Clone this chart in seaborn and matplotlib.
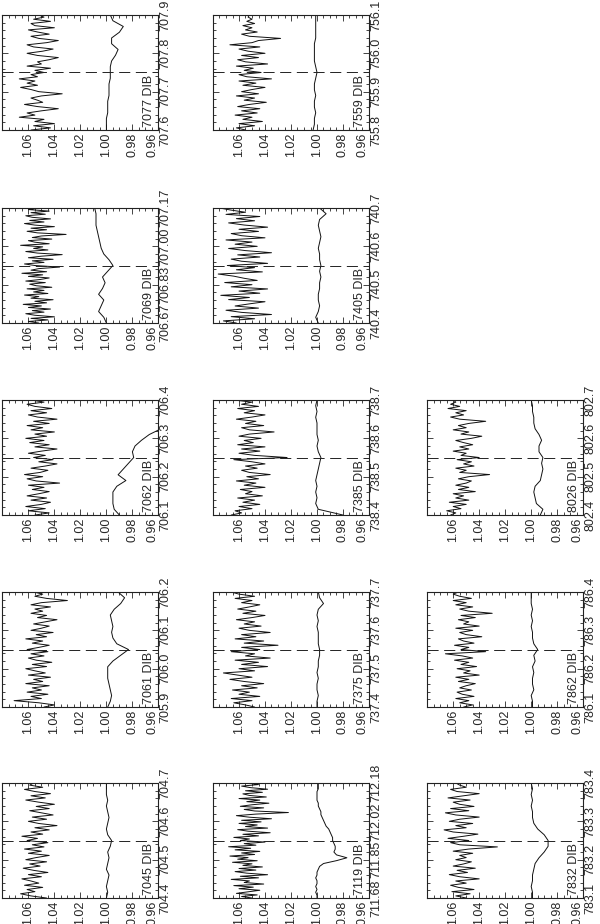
import matplotlib
matplotlib.use("Agg")
import matplotlib.pyplot as plt
import numpy as np
import pandas as pd
import seaborn as sns
from matplotlib.ticker import AutoMinorLocator, FixedLocator, FormatStrFormatter

# wavelength windows (nm) for each DIB
wl_7045 = (704.4, 704.7)
wl_7061 = (705.9, 706.2)
wl_7062 = (706.1, 706.4)
wl_7069 = (706.6667, 707.1667)
wl_7077 = (707.6, 707.9)
wl_7119 = (711.6833, 712.1833)
wl_7375 = (737.4, 737.7)
wl_7385 = (738.4, 738.7)
wl_7405 = (740.4, 740.7)
wl_7559 = (755.8, 756.1)
wl_7832 = (783.1, 783.4)
wl_7862 = (786.1, 786.4)
wl_8026 = (802.4, 802.7)

flux_ticks = [1.06, 1.04, 1.02, 1.00, 0.98, 0.96]

# observed (noisy) spectra, evenly sampled across each window
obs_7045 = [1.046, 1.058, 1.066, 1.055, 1.061, 1.049, 1.063, 1.052, 1.058, 1.065, 1.050, 1.060, 1.045, 1.056,
            1.064, 1.051, 1.059, 1.046, 1.062, 1.054, 1.044, 1.060, 1.050, 1.063, 1.048, 1.057, 1.045, 1.061,
            1.053, 1.065, 1.049, 1.058, 1.044, 1.055, 1.038, 1.052, 1.060, 1.046, 1.057, 1.041, 1.050, 1.059,
            1.044, 1.054, 1.040, 1.052, 1.062, 1.047, 1.058, 1.043, 1.055, 1.063, 1.049, 1.059, 1.056]
obs_7061 = [1.048, 1.040, 1.052, 1.071, 1.050, 1.058, 1.045, 1.061, 1.050, 1.057, 1.044, 1.062, 1.049, 1.056,
            1.043, 1.060, 1.047, 1.055, 1.062, 1.046, 1.057, 1.042, 1.054, 1.060, 1.048, 1.058, 1.045, 1.061,
            1.052, 1.044, 1.057, 1.049, 1.062, 1.046, 1.054, 1.041, 1.058, 1.050, 1.044, 1.056, 1.047, 1.038,
            1.053, 1.046, 1.058, 1.049, 1.055, 1.043, 1.058, 1.050, 1.030, 1.046, 1.055, 1.049, 1.056]
obs_7062 = [1.055, 1.044, 1.060, 1.047, 1.062, 1.050, 1.043, 1.058, 1.046, 1.061, 1.052, 1.044, 1.057, 1.048,
            1.060, 1.036, 1.054, 1.061, 1.049, 1.063, 1.051, 1.045, 1.058, 1.047, 1.038, 1.052, 1.041, 1.056,
            1.047, 1.060, 1.050, 1.038, 1.055, 1.044, 1.059, 1.048, 1.062, 1.046, 1.055, 1.040, 1.058, 1.049,
            1.061, 1.044, 1.056, 1.038, 1.053, 1.060, 1.046, 1.058, 1.042, 1.055, 1.061, 1.048, 1.058]
obs_7069 = [1.052, 1.060, 1.045, 1.058, 1.040, 1.055, 1.062, 1.048, 1.057, 1.043, 1.060, 1.050, 1.064, 1.046,
            1.055, 1.041, 1.058, 1.052, 1.063, 1.045, 1.056, 1.048, 1.061, 1.042, 1.054, 1.059, 1.047, 1.062,
            1.051, 1.044, 1.060, 1.049, 1.065, 1.046, 1.058, 1.052, 1.036, 1.055, 1.063, 1.048, 1.057, 1.041,
            1.060, 1.050, 1.034, 1.053, 1.062, 1.045, 1.056, 1.049, 1.066, 1.044, 1.055, 1.060, 1.042, 1.057,
            1.050, 1.031, 1.053, 1.061, 1.046, 1.058, 1.040, 1.055, 1.063, 1.048, 1.059, 1.043, 1.057, 1.062,
            1.047, 1.058, 1.044, 1.060, 1.052]
obs_7077 = [1.058, 1.043, 1.056, 1.040, 1.055, 1.048, 1.067, 1.055, 1.061, 1.050, 1.037, 1.053, 1.063, 1.049,
            1.053, 1.058, 1.050, 1.034, 1.052, 1.058, 1.066, 1.053, 1.061, 1.055, 1.067, 1.053, 1.058, 1.048,
            1.055, 1.043, 1.061, 1.050, 1.053, 1.044, 1.037, 1.053, 1.061, 1.049, 1.041, 1.056, 1.061, 1.046,
            1.037, 1.052, 1.058, 1.044, 1.053, 1.060, 1.040, 1.055, 1.058, 1.043, 1.056, 1.048, 1.052]
obs_7119 = [1.050, 1.058, 1.046, 1.062, 1.053, 1.044, 1.060, 1.049, 1.064, 1.041, 1.056, 1.052, 1.066, 1.045,
            1.059, 1.038, 1.054, 1.063, 1.047, 1.060, 1.042, 1.057, 1.050, 1.065, 1.046, 1.061, 1.053, 1.067,
            1.048, 1.058, 1.044, 1.063, 1.051, 1.068, 1.047, 1.056, 1.040, 1.059, 1.052, 1.064, 1.045, 1.057,
            1.036, 1.053, 1.061, 1.038, 1.055, 1.046, 1.060, 1.043, 1.058, 1.035, 1.052, 1.062, 1.047, 1.022,
            1.048, 1.056, 1.041, 1.059, 1.050, 1.037, 1.054, 1.044, 1.060, 1.039, 1.052, 1.057, 1.042, 1.055,
            1.038, 1.051, 1.058, 1.045, 1.053]
obs_7375 = [1.048, 1.055, 1.064, 1.050, 1.066, 1.044, 1.060, 1.052, 1.065, 1.046, 1.058, 1.041, 1.056, 1.067,
            1.050, 1.061, 1.072, 1.048, 1.060, 1.038, 1.058, 1.045, 1.063, 1.036, 1.055, 1.048, 1.066, 1.044,
            1.058, 1.030, 1.056, 1.041, 1.063, 1.047, 1.058, 1.036, 1.052, 1.060, 1.043, 1.056, 1.048, 1.062,
            1.050, 1.040, 1.057, 1.047, 1.061, 1.052, 1.044, 1.058, 1.050, 1.063, 1.048, 1.060, 1.066]
obs_7385 = [1.066, 1.058, 1.063, 1.050, 1.060, 1.044, 1.057, 1.048, 1.061, 1.042, 1.055, 1.050, 1.059, 1.040,
            1.056, 1.047, 1.062, 1.045, 1.054, 1.036, 1.052, 1.058, 1.046, 1.055, 1.040, 1.050, 1.064, 1.023,
            1.048, 1.060, 1.044, 1.058, 1.040, 1.061, 1.049, 1.056, 1.043, 1.060, 1.052, 1.033, 1.052, 1.058,
            1.041, 1.055, 1.047, 1.062, 1.050, 1.040, 1.056, 1.048, 1.061, 1.045, 1.058, 1.050, 1.064]
obs_7405 = [1.062, 1.072, 1.048, 1.066, 1.035, 1.058, 1.070, 1.045, 1.063, 1.052, 1.040, 1.068, 1.052, 1.074,
            1.044, 1.060, 1.038, 1.066, 1.050, 1.071, 1.046, 1.056, 1.064, 1.076, 1.042, 1.062, 1.048, 1.069,
            1.038, 1.058, 1.066, 1.044, 1.061, 1.035, 1.055, 1.068, 1.046, 1.063, 1.050, 1.070, 1.040, 1.058,
            1.066, 1.045, 1.060, 1.038, 1.056, 1.068, 1.048, 1.062, 1.044, 1.070, 1.055, 1.066, 1.075]
obs_7559 = [1.055, 1.062, 1.048, 1.060, 1.042, 1.057, 1.050, 1.063, 1.046, 1.058, 1.044, 1.061, 1.052, 1.039,
            1.056, 1.048, 1.062, 1.045, 1.058, 1.050, 1.040, 1.057, 1.047, 1.060, 1.035, 1.054, 1.060, 1.043,
            1.056, 1.049, 1.062, 1.038, 1.055, 1.061, 1.045, 1.058, 1.040, 1.053, 1.060, 1.044, 1.067, 1.050,
            1.045, 1.028, 1.052, 1.058, 1.046, 1.055, 1.050, 1.057, 1.048, 1.054, 1.050, 1.053, 1.052]
obs_7832 = [1.050, 1.058, 1.047, 1.061, 1.044, 1.056, 1.062, 1.050, 1.058, 1.040, 1.055, 1.063, 1.049, 1.057,
            1.043, 1.060, 1.052, 1.046, 1.058, 1.050, 1.055, 1.045, 1.060, 1.048, 1.026, 1.055, 1.062, 1.048,
            1.064, 1.052, 1.041, 1.060, 1.067, 1.050, 1.058, 1.045, 1.063, 1.055, 1.040, 1.058, 1.066, 1.048,
            1.062, 1.044, 1.055, 1.060, 1.047, 1.064, 1.052, 1.040, 1.057, 1.062, 1.050, 1.055, 1.058]
obs_7862 = [1.052, 1.045, 1.055, 1.048, 1.058, 1.044, 1.053, 1.057, 1.046, 1.055, 1.050, 1.043, 1.056, 1.048,
            1.058, 1.040, 1.052, 1.047, 1.057, 1.042, 1.054, 1.048, 1.059, 1.045, 1.053, 1.066, 1.035, 1.054,
            1.048, 1.059, 1.044, 1.052, 1.056, 1.038, 1.050, 1.055, 1.045, 1.058, 1.040, 1.052, 1.048, 1.056,
            1.043, 1.054, 1.030, 1.048, 1.055, 1.045, 1.058, 1.050, 1.060, 1.046, 1.055, 1.060, 1.056]
obs_8026 = [1.062, 1.058, 1.065, 1.054, 1.060, 1.050, 1.063, 1.048, 1.058, 1.052, 1.060, 1.043, 1.056, 1.048,
            1.058, 1.050, 1.046, 1.056, 1.048, 1.032, 1.055, 1.050, 1.058, 1.044, 1.052, 1.046, 1.057, 1.040,
            1.054, 1.050, 1.060, 1.048, 1.055, 1.045, 1.052, 1.058, 1.046, 1.038, 1.054, 1.048, 1.060, 1.050,
            1.056, 1.048, 1.035, 1.055, 1.062, 1.052, 1.058, 1.050, 1.064, 1.055, 1.062, 1.058, 1.060]

# reference (smooth) spectra
ref_7045 = [1.000, 0.999, 1.000, 0.999, 0.998, 1.000, 0.999, 0.998, 0.999, 0.997, 0.996, 0.999, 1.000, 0.999,
            0.998, 0.999, 1.000, 0.999, 1.000, 1.000, 1.000]
ref_7061 = [0.999, 0.997, 0.996, 0.997, 0.998, 0.999, 0.999, 0.999, 0.995, 0.989, 0.983, 0.992, 0.995, 0.996,
            0.995, 0.996, 0.997, 0.994, 0.989, 0.986, 0.991]
ref_7062 = [0.990, 0.994, 0.995, 0.995, 0.995, 0.992, 0.985, 0.991, 0.987, 0.983, 0.979, 0.980, 0.978, 0.973,
            0.967, 0.958, 0.952, 0.948, 0.945, 0.942, 0.940]
ref_7069 = [1.000, 1.002, 1.006, 1.004, 1.002, 1.006, 1.003, 1.001, 1.003, 0.999, 0.995, 0.998, 1.002, 1.004,
            1.005, 1.006, 1.007, 1.008, 1.008, 1.008, 1.009]
ref_7077 = [1.000, 1.000, 1.000, 0.999, 0.999, 0.999, 0.998, 0.998, 0.998, 0.997, 0.997, 0.997, 0.996, 0.993,
            0.991, 0.996, 0.996, 0.990, 0.987, 0.995, 0.997]
ref_7119 = [1.000, 1.000, 1.001, 1.000, 1.001, 1.000, 1.000, 1.001, 1.000, 1.000, 0.999, 0.998, 0.995, 0.985,
            0.977, 0.985, 0.987, 0.986, 0.986, 0.987, 0.988, 0.988, 0.989, 0.990, 0.991, 0.993, 0.994, 0.995,
            0.996, 0.997, 0.997, 0.998, 0.999, 0.999, 1.000, 1.000, 1.000, 1.000, 0.999, 0.999, 0.999]
ref_7375 = [1.000, 1.000, 0.999, 1.000, 1.000, 0.999, 1.000, 0.999, 0.999, 0.998, 0.998, 0.999, 0.999, 0.999,
            1.000, 0.999, 1.000, 0.999, 0.995, 0.998, 0.999]
ref_7385 = [0.980, 0.999, 1.001, 1.000, 1.001, 1.000, 1.001, 1.000, 0.999, 0.998, 0.997, 0.999, 1.000, 0.999,
            1.000, 1.000, 1.000, 1.001, 1.000, 1.001, 1.000]
ref_7405 = [0.999, 1.001, 0.999, 0.998, 0.999, 0.999, 0.998, 0.998, 0.997, 0.998, 0.997, 0.998, 0.998, 0.999,
            0.998, 0.997, 0.998, 0.999, 0.998, 0.993, 0.998]
ref_7559 = [1.003, 1.002, 1.002, 1.001, 1.002, 1.002, 1.001, 1.002, 1.002, 1.001, 1.000, 1.001, 1.002, 1.002,
            1.002, 1.002, 1.001, 1.001, 1.001, 1.001, 1.001]
ref_7832 = [0.999, 0.999, 1.000, 0.999, 0.999, 0.998, 0.997, 0.994, 0.990, 0.987, 0.987, 0.990, 0.995, 0.998,
            0.999, 0.999, 1.000, 0.999, 1.000, 0.999, 1.000]
ref_7862 = [0.999, 0.999, 1.000, 0.998, 0.999, 0.999, 0.998, 0.999, 0.997, 0.998, 0.995, 0.998, 0.999, 0.999,
            1.000, 0.999, 1.000, 0.999, 1.000, 1.000, 1.000]
ref_8026 = [0.993, 0.991, 0.996, 0.997, 0.998, 0.997, 0.993, 0.992, 0.991, 0.992, 0.991, 0.994, 0.994, 0.992,
            0.994, 0.997, 0.998, 0.998, 0.999, 0.999, 1.000]

panels = [
    ("7077 DIB", wl_7077, obs_7077, ref_7077, "%.1f"),
    ("7069 DIB", wl_7069, obs_7069, ref_7069, "%.2f"),
    ("7062 DIB", wl_7062, obs_7062, ref_7062, "%.1f"),
    ("7061 DIB", wl_7061, obs_7061, ref_7061, "%.1f"),
    ("7045 DIB", wl_7045, obs_7045, ref_7045, "%.1f"),
    ("7559 DIB", wl_7559, obs_7559, ref_7559, "%.1f"),
    ("7405 DIB", wl_7405, obs_7405, ref_7405, "%.1f"),
    ("7385 DIB", wl_7385, obs_7385, ref_7385, "%.1f"),
    ("7375 DIB", wl_7375, obs_7375, ref_7375, "%.1f"),
    ("7119 DIB", wl_7119, obs_7119, ref_7119, "%.2f"),
    ("8026 DIB", wl_8026, obs_8026, ref_8026, "%.1f"),
    ("7862 DIB", wl_7862, obs_7862, ref_7862, "%.1f"),
    ("7832 DIB", wl_7832, obs_7832, ref_7832, "%.1f"),
]

# panel grid (page is rotated: wavelength runs up, flux runs right-to-left)
col_left = [0.004, 0.355, 0.712]
row_bottom = [0.8593, 0.6504, 0.4426, 0.2348, 0.0281]
slots = [(0, 0), (0, 1), (0, 2), (0, 3), (0, 4),
         (1, 0), (1, 1), (1, 2), (1, 3), (1, 4),
         (2, 2), (2, 3), (2, 4)]
ax_w, ax_h = 0.26, 0.1245

sns.set_style("ticks")
plt.rcParams["font.family"] = ["Liberation Sans", "DejaVu Sans"]
plt.rcParams["lines.scale_dashes"] = False

fig = plt.figure(figsize=(6, 9.24), dpi=100)

for (label, (lo, hi), obs, ref, fmt), (c, r) in zip(panels, slots):
    ax = fig.add_axes([col_left[c], row_bottom[r], ax_w, ax_h])
    tidy = pd.concat([
        pd.DataFrame({"wl": np.linspace(lo, hi, len(obs)), "flux": obs, "kind": "obs"}),
        pd.DataFrame({"wl": np.linspace(lo, hi, len(ref)), "flux": ref, "kind": "ref"}),
    ])
    sns.lineplot(data=tidy, x="flux", y="wl", units="kind", estimator=None, orient="y",
                 color="#111111", lw=0.7, ax=ax, legend=False)
    ax.axhline((lo + hi) / 2, color="#222222", lw=0.7, ls=(0, (8, 4)))
    ax.text(0.967, lo + 0.025 * (hi - lo), label, rotation=90, ha="center", va="bottom", fontsize=9)

    ax.set_xlim(1.08, 0.96)
    ax.set_ylim(lo, hi)
    ax.set_xlabel("")
    ax.set_ylabel("")
    ax.xaxis.set_major_locator(FixedLocator(flux_ticks))
    ax.xaxis.set_major_formatter(FormatStrFormatter("%.2f"))
    ax.xaxis.set_minor_locator(AutoMinorLocator(4))
    ax.yaxis.set_major_locator(FixedLocator(np.linspace(lo, hi, 4)))
    ax.yaxis.set_major_formatter(FormatStrFormatter(fmt))
    ax.yaxis.set_minor_locator(AutoMinorLocator(5))
    ax.tick_params(which="both", direction="in", top=True, bottom=True, left=True, right=True,
                   labelleft=False, labelright=True, labelbottom=True, labelsize=9, width=0.6)
    ax.tick_params(which="major", length=4)
    ax.tick_params(which="minor", length=2)
    ax.tick_params(axis="x", labelrotation=90, pad=2)
    ax.tick_params(axis="y", labelrotation=90, pad=1)
    for t in ax.get_yticklabels():
        t.set_va("center")
    # keep the edge label inside the frame, as in the original
    ax.get_xticklabels()[-1].set_ha("right")
    for s in ax.spines.values():
        s.set_linewidth(0.8)
        s.set_color("#222222")

fig.savefig("out.png", dpi=100)
plt.close(fig)
